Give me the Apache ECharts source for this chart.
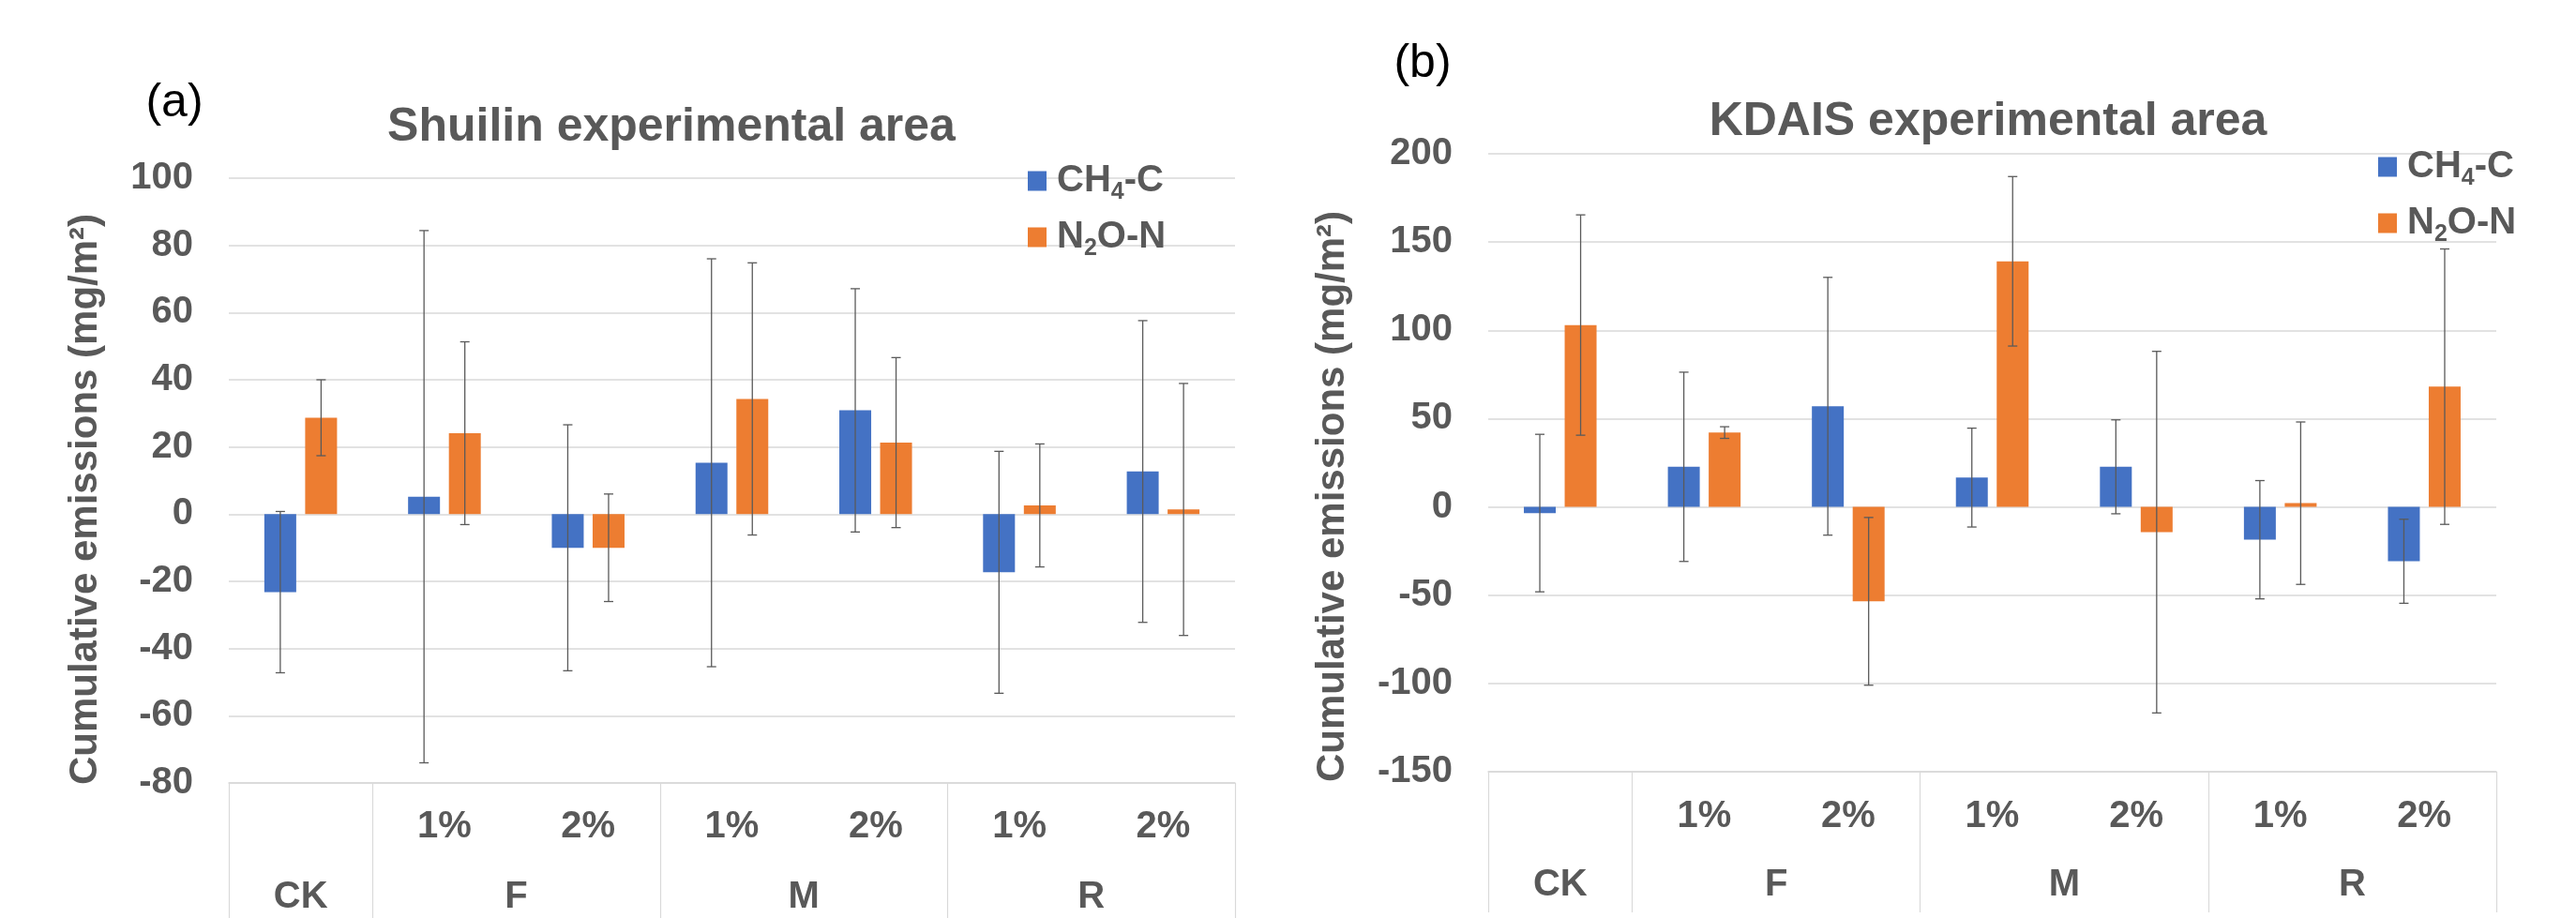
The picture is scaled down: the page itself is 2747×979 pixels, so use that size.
<!DOCTYPE html>
<html>
<head>
<meta charset="utf-8">
<script src="https://cdn.jsdelivr.net/npm/echarts@6/dist/echarts.min.js"></script>
<style>
html,body{margin:0;padding:0;background:#fff;}
#chart{width:2747px;height:979px;}
</style>
</head>
<body>
<div id="chart"></div>
<script>
// ---------- data ----------
const categories = ['CK', 'F 1%', 'F 2%', 'M 1%', 'M 2%', 'R 1%', 'R 2%'];
const levelLabels = ['', '1%', '2%', '1%', '2%', '1%', '2%'];
const groupNames = ['CK', 'F', 'M', 'R'];
const groupSpans = [1, 2, 2, 2];
const seriesNames = ['CH4-C', 'N2O-N'];

// (a) Shuilin experimental area
const ch4A = [-23.2, 5.2, -10.0, 15.3, 30.9, -17.3, 12.7];
const ch4AErr = [24.0, 79.2, 36.6, 60.7, 36.2, 36.0, 44.9];
const n2oA = [28.7, 24.1, -10.0, 34.3, 21.3, 2.6, 1.4];
const n2oAErr = [11.3, 27.2, 16.0, 40.5, 25.3, 18.3, 37.5];

// (b) KDAIS experimental area
const ch4B = [-3.5, 22.7, 57.0, 16.6, 22.7, -18.6, -30.8];
const ch4BErr = [44.6, 53.6, 73.0, 28.0, 26.6, 33.5, 23.8];
const n2oB = [103.0, 42.1, -53.5, 139.1, -14.3, 2.1, 68.1];
const n2oBErr = [62.4, 3.3, 47.5, 48.0, 102.4, 46.0, 78.0];

const yTicksA = {min: -80, max: 100, interval: 20};
const yTicksB = {min: -150, max: 200, interval: 50};

// ---------- style ----------
const FONT = '"Liberation Sans", Arial, sans-serif';
const GREY = '#595959';
const GRID = '#d9d9d9';
const BLUE = '#4472C4';
const ORANGE = '#ED7D31';
const BAR_W = 34;
const BAR_GAP = 0.28;
const BAR_OFF = (BAR_W + BAR_W * BAR_GAP) / 2;

// group centres and boundaries on a 0..7 value axis
const groupCenters = [];
const groupBounds = [0];
let acc = 0;
groupSpans.forEach(s => { groupCenters.push(acc + s / 2); acc += s; groupBounds.push(acc); });
const groupLabelFor = v => {
  const i = groupCenters.findIndex(c => Math.abs(c - v) < 1e-6);
  return i >= 0 ? groupNames[i] : '';
};

function errRender(sign) {
  return function (params, api) {
    const c = api.value(0), v = api.value(1), e = api.value(2);
    const top = api.coord([c, v + e]);
    const bot = api.coord([c, v - e]);
    const x = top[0] + sign * BAR_OFF;
    const style = {stroke: '#5a5a5a', lineWidth: 1.3};
    const cap = 5;
    return {
      type: 'group',
      children: [
        {type: 'line', shape: {x1: x, y1: top[1], x2: x, y2: bot[1]}, style},
        {type: 'line', shape: {x1: x - cap, y1: top[1], x2: x + cap, y2: top[1]}, style},
        {type: 'line', shape: {x1: x - cap, y1: bot[1], x2: x + cap, y2: bot[1]}, style}
      ]
    };
  };
}
const errData = (vals, errs) => vals.map((v, i) => [i, v, errs[i]]);

function xAxesFor(g, labelMargin, groupMargin) {
  return [
    {
      type: 'category', gridIndex: g, data: categories, position: 'bottom',
      axisLine: {show: true, onZero: false, lineStyle: {color: GRID, width: 1.5}},
      axisTick: {show: false},
      splitLine: {show: false},
      axisLabel: {
        interval: 0, margin: labelMargin, fontFamily: FONT, fontSize: 40, fontWeight: 'bold', color: GREY,
        formatter: (val, idx) => levelLabels[idx]
      }
    },
    {
      type: 'value', gridIndex: g, min: 0, max: categories.length, position: 'bottom',
      axisLine: {show: false, onZero: false},
      splitLine: {show: false},
      axisTick: {show: true, customValues: groupBounds, length: 150, lineStyle: {color: GRID, width: 1.2}},
      axisLabel: {
        show: true, customValues: groupCenters, margin: groupMargin,
        fontFamily: FONT, fontSize: 40, fontWeight: 'bold', color: GREY,
        formatter: v => groupLabelFor(v)
      }
    }
  ];
}

function yAxisFor(g, ticks, nameGap, namePad) {
  return {
    type: 'value', gridIndex: g, min: ticks.min, max: ticks.max, interval: ticks.interval,
    axisLine: {show: false}, axisTick: {show: false},
    splitLine: {show: true, lineStyle: {color: GRID, width: 1.5}},
    axisLabel: {margin: 38, fontFamily: FONT, fontSize: 40, fontWeight: 'bold', color: GREY},
    name: 'Cumulative emissions (mg/m²)',
    nameLocation: 'middle', nameRotate: 90, nameGap: nameGap,
    nameTextStyle: {fontFamily: FONT, fontSize: 42, fontWeight: 'bold', color: GREY, padding: namePad}
  };
}

const legendFmt = name => name === 'CH4-C' ? 'CH{s|4}-C' : 'N{s|2}O-N';
function legendFor(left, top) {
  return {
    data: seriesNames, orient: 'vertical', left: left, top: top, padding: 0,
    itemWidth: 20, itemHeight: 21, itemGap: 10, icon: 'rect',
    formatter: legendFmt,
    textStyle: {
      fontFamily: FONT, fontSize: 40, fontWeight: 'bold', color: GREY, lineHeight: 50, padding: [0, 0, 0, 6],
      rich: {s: {fontFamily: FONT, fontSize: 25, fontWeight: 'bold', color: GREY, verticalAlign: 'bottom', lineHeight: 26}}
    }
  };
}

function barSeries(name, data, color, xi, yi) {
  return {
    name, type: 'bar', data, xAxisIndex: xi, yAxisIndex: yi,
    barWidth: BAR_W, barGap: (BAR_GAP * 100) + '%',
    itemStyle: {color}, z: 2
  };
}
function errSeries(name, vals, errs, sign, xi, yi) {
  return {
    name, type: 'custom', xAxisIndex: xi, yAxisIndex: yi,
    data: errData(vals, errs), encode: {x: 0, y: 1},
    renderItem: errRender(sign), z: 5, silent: true
  };
}

const option = {
  animation: false,
  backgroundColor: '#ffffff',
  title: [
    {text: '(a)', left: 186, top: 110, textAlign: 'center', textVerticalAlign: 'middle', padding: 0,
     textStyle: {fontFamily: FONT, fontSize: 50, fontWeight: 'normal', color: '#000'}},
    {text: '(b)', left: 1517, top: 68, textAlign: 'center', textVerticalAlign: 'middle', padding: 0,
     textStyle: {fontFamily: FONT, fontSize: 50, fontWeight: 'normal', color: '#000'}},
    {text: 'Shuilin experimental area', left: 716, top: 136, textAlign: 'center', textVerticalAlign: 'middle', padding: 0,
     textStyle: {fontFamily: FONT, fontSize: 50, fontWeight: 'bold', color: GREY}},
    {text: 'KDAIS experimental area', left: 2120, top: 130, textAlign: 'center', textVerticalAlign: 'middle', padding: 0,
     textStyle: {fontFamily: FONT, fontSize: 50, fontWeight: 'bold', color: GREY}}
  ],
  legend: [legendFor(1096, 168), legendFor(2536, 153)],
  grid: [
    {left: 244, top: 190, width: 1073, height: 645, containLabel: false},
    {left: 1587, top: 164, width: 1075, height: 659, containLabel: false}
  ],
  xAxis: [...xAxesFor(0, 27, 102), ...xAxesFor(1, 28, 101)],
  yAxis: [yAxisFor(0, yTicksA, 132, [0, 40, 0, 0]), yAxisFor(1, yTicksB, 145, [0, 72, 0, 0])],
  series: [
    barSeries('CH4-C', ch4A, BLUE, 0, 0),
    barSeries('N2O-N', n2oA, ORANGE, 0, 0),
    errSeries('CH4-C', ch4A, ch4AErr, -1, 0, 0),
    errSeries('N2O-N', n2oA, n2oAErr, 1, 0, 0),
    barSeries('CH4-C', ch4B, BLUE, 2, 1),
    barSeries('N2O-N', n2oB, ORANGE, 2, 1),
    errSeries('CH4-C', ch4B, ch4BErr, -1, 2, 1),
    errSeries('N2O-N', n2oB, n2oBErr, 1, 2, 1)
  ]
};

const chart = echarts.init(document.getElementById('chart'), null, {renderer: 'canvas'});
chart.setOption(option);
</script>
</body>
</html>
